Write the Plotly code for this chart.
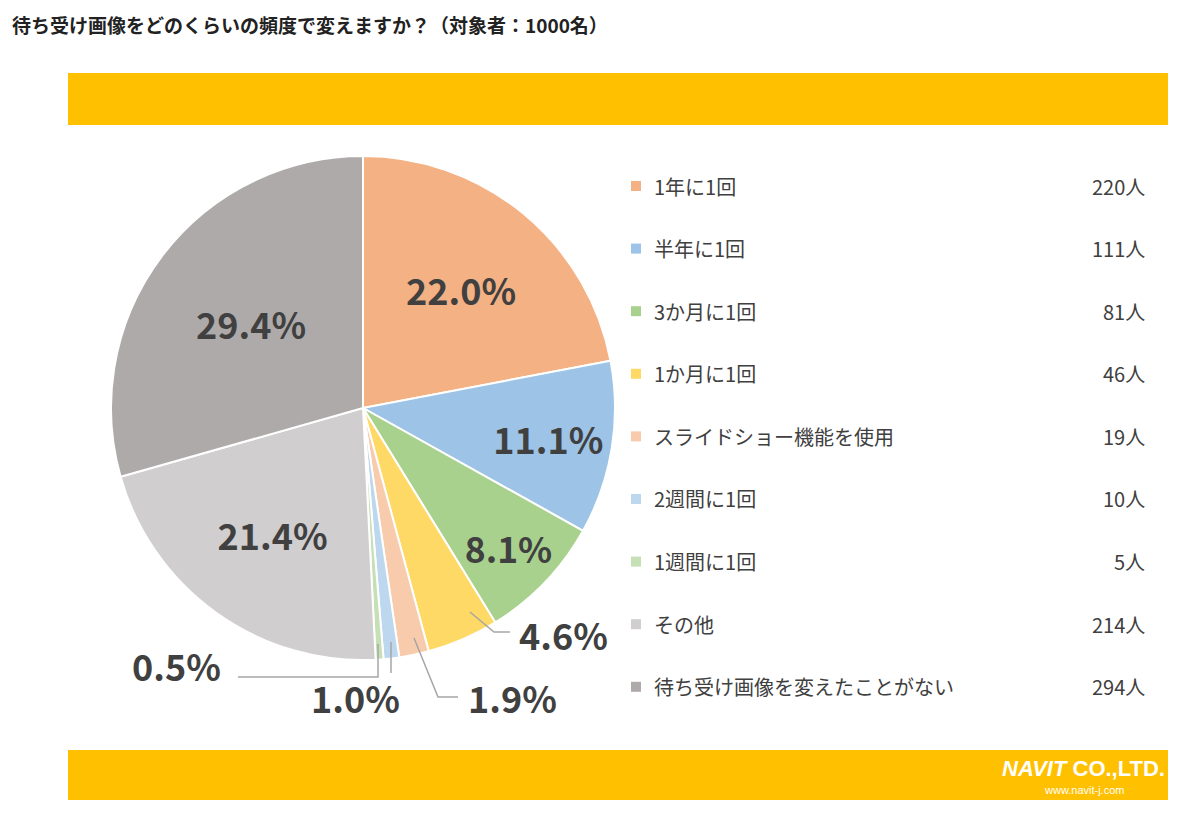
import plotly.graph_objects as go

# page has an 8px body margin, so the figure is drawn 8px smaller and offset
OFF = 8
W, H = 1200 - OFF, 813 - OFF

labels = ["1年に1回", "半年に1回", "3か月に1回", "1か月に1回", "スライドショー機能を使用",
          "2週間に1回", "1週間に1回", "その他", "待ち受け画像を変えたことがない"]
counts = [220, 111, 81, 46, 19, 10, 5, 214, 294]
colors = ["#F4B183", "#9DC3E6", "#A9D18E", "#FFD966", "#F8CBAD",
          "#BDD7EE", "#C5E0B4", "#D0CECE", "#AEAAAA"]
inside = [True, True, True, False, False, False, False, True, True]

total = sum(counts)
pcts = [c / total * 100 for c in counts]
FONT = "Noto Sans CJK JP"


def px(x, y):
    return (x - OFF) / W, 1 - (y - OFF) / H


def note(x, y, text, size, color="#404040", xa="center", family=FONT):
    ax, ay = px(x, y)
    return dict(x=ax, y=ay, xref="paper", yref="paper", showarrow=False,
                xanchor=xa, yanchor="middle", text=text,
                font=dict(size=size, color=color, family=family))


fig = go.Figure()
d0 = px(111, 660)
d1 = px(615, 156)
fig.add_trace(go.Pie(
    labels=labels, values=counts, sort=False, direction="clockwise", rotation=0,
    marker=dict(colors=colors, line=dict(color="white", width=2)),
    texttemplate=["<b>%{percent:.1%}</b>" if s else "" for s in inside],
    textposition="inside", insidetextorientation="horizontal",
    textfont=dict(size=36, color="#404040", family=FONT),
    domain=dict(x=[d0[0], d1[0]], y=[d0[1], d1[1]]),
    showlegend=False, hoverinfo="label+value+percent",
))

shapes = []
annos = []

# yellow bands
for y0, y1 in [(73, 125), (750, 800)]:
    x0, yy0 = px(68, y1)
    x1, yy1 = px(1168, y0)
    shapes.append(dict(type="rect", xref="paper", yref="paper", x0=x0, x1=x1, y0=yy0, y1=yy1,
                       fillcolor="#FFC000", line=dict(width=0), layer="below"))

# outside labels for small slices
outside = [
    (3, [(470, 612), (494, 632), (510, 632)], (563, 634)),
    (4, [(414, 638), (438, 697), (458, 697)], (512, 697)),
    (5, [(391, 642), (391, 673)], (355, 697)),
    (6, [(378, 644), (378, 677), (238, 677)], (176, 665)),
]
for i, pts, (tx, ty) in outside:
    path = "M " + " L ".join(f"{px(x, y)[0]},{px(x, y)[1]}" for x, y in pts)
    shapes.append(dict(type="path", xref="paper", yref="paper", path=path,
                       line=dict(color="#A6A6A6", width=1.5)))
    annos.append(note(tx, ty, f"<b>{pcts[i]:.1f}%</b>", 36))

# legend
for k, (lab, c, col) in enumerate(zip(labels, counts, colors)):
    y = 186 + k * 62.6
    sx0, sy0 = px(631, y + 5)
    sx1, sy1 = px(641, y - 5)
    shapes.append(dict(type="rect", xref="paper", yref="paper", x0=sx0, x1=sx1, y0=sy0, y1=sy1,
                       fillcolor=col, line=dict(width=0)))
    annos.append(note(652, y, lab, 20, xa="left"))
    annos.append(note(1147, y, f"{c}人", 20, xa="right"))

# title
annos.append(note(10, 25, "<b>待ち受け画像をどのくらいの頻度で変えますか？（対象者：1000名）</b>",
                  19, color="#222222", xa="left"))

# logo
annos.append(note(1000, 768, "<b><i>NAVIT</i></b> <b>CO.,LTD.</b>", 22, color="white",
                  xa="left", family="Liberation Sans"))
annos.append(note(1042, 790, "www.navit-j.com", 11, color="white", xa="left",
                  family="Liberation Sans"))

fig.update_layout(width=W, height=H, margin=dict(l=0, r=0, t=0, b=0),
                  paper_bgcolor="white", plot_bgcolor="white",
                  shapes=shapes, annotations=annos)
fig.write_html("out.html")
